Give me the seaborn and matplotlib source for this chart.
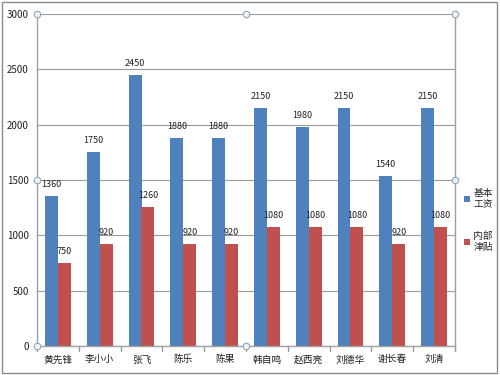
#!/usr/bin/env python3
"""Salary chart: base pay vs internal allowance per employee."""

import pandas as pd
import matplotlib
matplotlib.use('Agg')
import matplotlib.pyplot as plt
import seaborn as sns

names = ['黄先锋', '李小小', '张飞', '陈乐', '陈果', '韩自鸣', '赵西亮', '刘德华', '谢长春', '刘清']
base_pay = [1360, 1750, 2450, 1880, 1880, 2150, 1980, 2150, 1540, 2150]
allowance = [750, 920, 1260, 920, 920, 1080, 1080, 1080, 920, 1080]
series = ['基本\n工资', '内部\n津贴']
colors = ['#4F81BD', '#C0504D']

sns.set_theme(style='white')
plt.rcParams['font.family'] = ['Noto Sans CJK SC', 'DejaVu Sans']

df = pd.DataFrame({
    'name': names * 2,
    'value': base_pay + allowance,
    'series': [series[0]] * len(names) + [series[1]] * len(names),
})

fig = plt.figure(figsize=(5, 3.75), dpi=100)
ax = fig.add_axes([0.074, 0.077, 0.836, 0.886])

sns.barplot(data=df, x='name', y='value', hue='series', palette=colors,
            width=0.62, saturation=1, linewidth=0, ax=ax, legend=True)

for cont in ax.containers:
    ax.bar_label(cont, padding=5, fontsize=6.5, color='#222222')

ax.yaxis.grid(True, color='#9a9a9a', linewidth=0.8)
ax.set_axisbelow(True)
ax.set_xlabel('')
ax.set_ylabel('')
ax.tick_params(axis='both', labelsize=7, colors='#222222', length=0, pad=6)
ax.spines['top'].set_visible(False)
for side in ['left', 'bottom', 'right']:
    ax.spines[side].set_color('#a0a0a0')
    ax.spines[side].set_linewidth(1)
# small ticks between categories
for i in range(len(names) + 1):
    ax.plot([i - 0.5, i - 0.5], [0, -40], color='#9a9a9a', lw=1, clip_on=False)

# selection handles around the plot area
x0, x1 = -0.5, len(names) - 0.5
hx = [x0, x0, x0, (x0 + x1) / 2, x1, x1, (x0 + x1) / 2]
hy = [0, 1500, 3000, 3000, 3000, 1500, 0]
ax.scatter(hx, hy, s=22, facecolor='#eef3f8', edgecolor='#8fa7bf', linewidth=0.8,
           zorder=5, clip_on=False)

ax.set_xlim(x0, x1)
ax.set_ylim(0, 3000)
ax.set_yticks(range(0, 3001, 500))

ax.legend(loc='center left', bbox_to_anchor=(1.0, 0.38), frameon=False,
          fontsize=7, handlelength=0.6, handleheight=0.6, handletextpad=0.4,
          labelspacing=2.2)

# outer chart frame
fig.patches.append(plt.Rectangle((0.004, 0.005), 0.99, 0.99, transform=fig.transFigure,
                                 fill=False, edgecolor='#8a8a8a', linewidth=1))

fig.savefig('out.png', dpi=100)
